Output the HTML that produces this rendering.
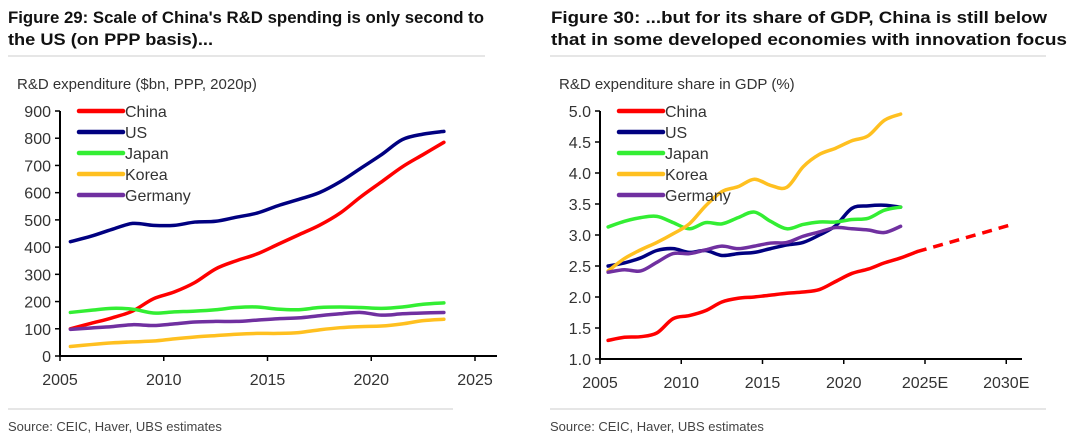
<!DOCTYPE html>
<html><head><meta charset="utf-8"><style>
body{margin:0;background:#fff;}
svg{display:block;font-family:"Liberation Sans",sans-serif;}
.t{font-weight:bold;font-size:17px;fill:#111;}
.tk{font-size:16px;fill:#333;}
.lab{font-size:15px;fill:#333;}
.src{font-size:13px;fill:#444;}
</style></head><body>
<svg id="s" width="1080" height="446" viewBox="0 0 1080 446">
<text class="t" x="8" y="23" textLength="476" lengthAdjust="spacingAndGlyphs">Figure 29: Scale of China's R&amp;D spending is only second to</text>
<text class="t" x="8" y="45" textLength="205" lengthAdjust="spacingAndGlyphs">the US (on PPP basis)...</text>
<text class="t" x="551" y="23" textLength="496" lengthAdjust="spacingAndGlyphs">Figure 30: ...but for its share of GDP, China is still below</text>
<text class="t" x="551" y="45" textLength="516" lengthAdjust="spacingAndGlyphs">that in some developed economies with innovation focus</text>
<line x1="8" y1="56" x2="485" y2="56" stroke="#ddd" stroke-width="1.5"/>
<line x1="550" y1="56" x2="1046" y2="56" stroke="#ddd" stroke-width="1.5"/>
<line x1="8" y1="409" x2="453" y2="409" stroke="#ddd" stroke-width="1.5"/>
<line x1="550" y1="409" x2="1046" y2="409" stroke="#ddd" stroke-width="1.5"/>
<text class="src" x="8" y="431">Source: CEIC, Haver, UBS estimates</text>
<text class="src" x="550" y="431">Source: CEIC, Haver, UBS estimates</text>
<text class="lab" x="17" y="89">R&amp;D expenditure ($bn, PPP, 2020p)</text>
<text class="lab" x="559" y="89">R&amp;D expenditure share in GDP (%)</text>
<g id="L"></g><g id="R"></g>
</svg>
<script>
const names=["China","US","Japan","Korea","Germany"];
const colors=["#ff0000","#000080","#33ee33","#ffc020","#7030a0"];
const leftTicksY=[0,100,200,300,400,500,600,700,800,900];
const leftTicksX=["2005","2010","2015","2020","2025"];
const leftChina=[100,120,140,165,210,235,270,320,350,375,410,445,480,525,585,640,695,740,785];
const leftUS=[420,440,465,487,480,480,492,495,510,525,552,575,600,640,690,740,795,815,825];
const leftJapan=[160,168,175,172,158,162,165,170,178,180,172,170,178,180,178,175,180,190,195];
const leftKorea=[35,42,48,52,55,63,70,75,80,83,83,86,96,104,108,110,118,130,135];
const leftGermany=[98,103,108,115,112,118,125,127,127,132,137,140,148,155,160,150,155,158,160];
const rightTicksY=["1.0","1.5","2.0","2.5","3.0","3.5","4.0","4.5","5.0"];
const rightTicksX=["2005","2010","2015","2020","2025E","2030E"];
const rightChina=[1.30,1.35,1.36,1.42,1.65,1.70,1.78,1.92,1.98,2.00,2.03,2.06,2.08,2.12,2.25,2.38,2.45,2.55,2.63,2.73];
const rightChinaForecast=[2.73,3.18];
const rightUS=[2.50,2.55,2.63,2.75,2.78,2.72,2.75,2.67,2.70,2.72,2.78,2.84,2.88,3.00,3.15,3.43,3.47,3.48,3.45];
const rightJapan=[3.13,3.22,3.28,3.30,3.20,3.10,3.20,3.18,3.28,3.37,3.22,3.10,3.17,3.21,3.21,3.25,3.27,3.40,3.45];
const rightKorea=[2.42,2.62,2.76,2.88,3.02,3.18,3.47,3.70,3.78,3.90,3.80,3.77,4.10,4.30,4.40,4.52,4.60,4.85,4.95];
const rightGermany=[2.40,2.44,2.42,2.56,2.70,2.70,2.76,2.82,2.78,2.82,2.87,2.88,2.98,3.05,3.12,3.10,3.08,3.04,3.14];
const startYear=2005.5;

const NS="http://www.w3.org/2000/svg";
function mk(tag,attrs,parent){const e=document.createElementNS(NS,tag);for(const k in attrs)e.setAttribute(k,attrs[k]);parent.appendChild(e);return e;}
function smooth(pts){let d="M"+pts[0][0]+","+pts[0][1];for(let i=0;i<pts.length-1;i++){const p0=pts[i-1]||pts[i],p1=pts[i],p2=pts[i+1],p3=pts[i+2]||p2;d+=" C"+(p1[0]+(p2[0]-p0[0])/6)+","+(p1[1]+(p2[1]-p0[1])/6)+" "+(p2[0]-(p3[0]-p1[0])/6)+","+(p2[1]-(p3[1]-p1[1])/6)+" "+p2[0]+","+p2[1];}return d;}

function chart(g,cfg){
  const xs=y=>cfg.x0+(y-2005)*cfg.pxy;
  const ys=v=>cfg.yb-(v-cfg.vmin)/(cfg.vmax-cfg.vmin)*(cfg.yb-cfg.yt);
  let a=mk("line",{x1:cfg.x0,y1:cfg.yt,x2:cfg.x0,y2:cfg.yb,stroke:"#000","stroke-width":2},g);
  
  
  a=mk("line",{x1:cfg.x0-1,y1:cfg.yb,x2:cfg.xend,y2:cfg.yb,stroke:"#000","stroke-width":2},g);
  
  
  cfg.ticksY.forEach(t=>{const y=ys(+t);
    const l=mk("line",{x1:cfg.x0-5,y1:y,x2:cfg.x0,y2:y,stroke:"#000","stroke-width":1.5},g);
    
    
    const tx=mk("text",{x:cfg.x0-9,y:y+6,"text-anchor":"end",class:"tk"},g);tx.textContent=t;
    
    });
  cfg.ticksX.forEach((t,i)=>{const x=xs(2005+5*i);
    const l=mk("line",{x1:x,y1:cfg.yb,x2:x,y2:cfg.yb+5,stroke:"#000","stroke-width":1.5},g);
    
    
    const tx=mk("text",{x:x,y:cfg.yb+29,"text-anchor":"middle",class:"tk"},g);tx.textContent=t;
    
    });
  cfg.series.forEach((s,i)=>{const pts=s.map((v,j)=>[xs(startYear+j),ys(v)]);
    const p=mk("path",{d:smooth(pts),fill:"none",stroke:colors[i],"stroke-width":3.5,"stroke-linejoin":"round","stroke-linecap":"round"},g);
    
    });
  if(cfg.forecast){const n=cfg.series[0].length-1;
    const p=mk("line",{x1:xs(startYear+n),y1:ys(cfg.forecast[0]),x2:xs(2030.5),y2:ys(cfg.forecast[1]),stroke:colors[0],"stroke-width":3.5,"stroke-dasharray":"10,7"},g);
    
    }
  names.forEach((n,i)=>{const y=cfg.yt+21*i;
    const l=mk("line",{x1:cfg.lx,y1:y,x2:cfg.lx+44,y2:y,stroke:colors[i],"stroke-width":4.5,"stroke-linecap":"round"},g);
    
    
    const t=mk("text",{x:cfg.lx+46,y:y+6,class:"tk",fill:"#444"},g);t.textContent=n;
    
    });
}
chart(document.getElementById("L"),{x0:60,pxy:20.75,yt:111,yb:356,vmin:0,vmax:900,xend:497,ticksY:leftTicksY,ticksX:leftTicksX,
  series:[leftChina,leftUS,leftJapan,leftKorea,leftGermany],lx:79});
chart(document.getElementById("R"),{x0:600,pxy:16.25,yt:111,yb:359,vmin:1,vmax:5,xend:1022,ticksY:rightTicksY,ticksX:rightTicksX,
  series:[rightChina,rightUS,rightJapan,rightKorea,rightGermany],forecast:rightChinaForecast,lx:619});
</script>
</body></html>
